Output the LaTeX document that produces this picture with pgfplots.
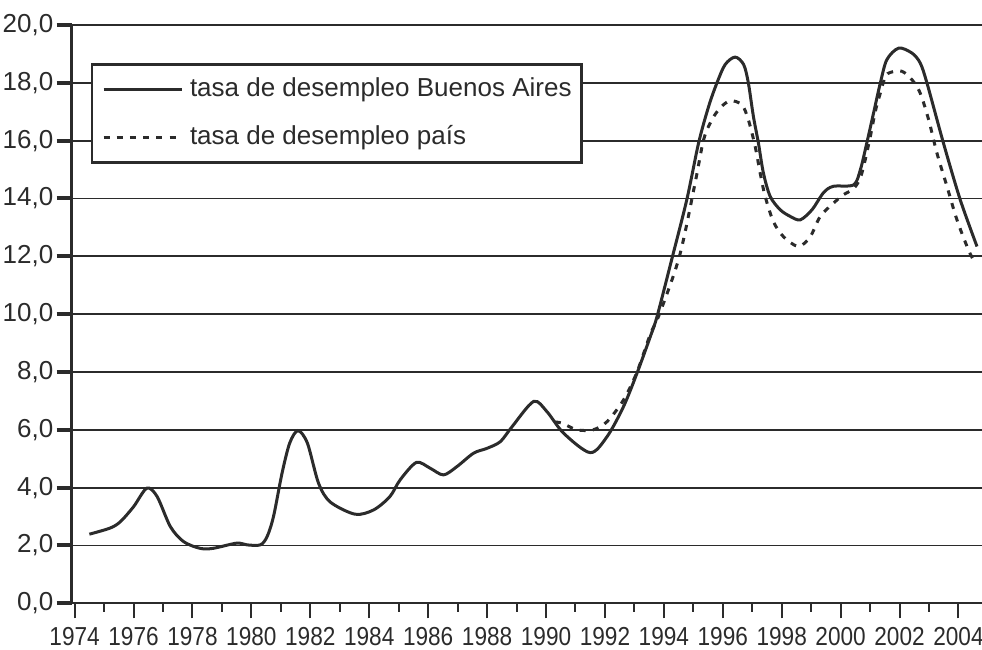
\documentclass[border=0pt]{standalone}
\usepackage{pgfplots}
\pgfplotsset{compat=1.18}
\usepackage{fontspec}
\setmainfont{Liberation Sans}
\newfontfamily\xlabfont[FakeStretch=0.87]{Liberation Sans}
\definecolor{ink}{HTML}{2B2B2B}
\pgfplotstableread{
x y
1974.5 2.39
1975.2 2.6
1975.55 2.82
1976.0 3.34
1976.45 3.98
1976.8 3.69
1977.25 2.65
1977.7 2.13
1978.26 1.9
1978.7 1.9
1979.5 2.08
1979.85 2.02
1980.3 2.02
1980.53 2.3
1980.75 3.0
1981.04 4.5
1981.3 5.54
1981.58 5.97
1981.9 5.54
1982.28 4.15
1982.68 3.5
1983.52 3.08
1984.15 3.23
1984.7 3.69
1985.05 4.27
1985.6 4.87
1986.07 4.67
1986.52 4.44
1986.98 4.73
1987.54 5.19
1988.0 5.36
1988.45 5.59
1988.85 6.11
1989.58 6.98
1990.03 6.63
1990.6 5.88
1991.5 5.21
1992.07 5.76
1992.63 6.8
1993.09 7.96
1993.54 9.22
1993.77 9.92
1994.28 11.94
1994.78 13.96
1995.18 15.92
1995.52 17.18
1995.8 17.99
1996.08 18.63
1996.42 18.89
1996.71 18.63
1996.87 17.99
1997.04 16.84
1997.21 15.92
1997.38 14.88
1997.61 14.07
1997.95 13.61
1998.29 13.38
1998.63 13.26
1999.03 13.61
1999.42 14.2
1999.75 14.42
2000.44 14.47
2000.67 14.99
2000.89 15.92
2001.12 16.96
2001.35 18.0
2001.57 18.8
2001.97 19.2
2002.42 19.03
2002.7 18.69
2002.93 18.0
2003.49 15.92
2004.06 13.96
2004.63 12.34
}\ba
\pgfplotstableread{
x y
1990.3 6.27
1990.54 6.23
1991.05 6.0
1991.6 6.0
1992.07 6.28
1992.63 7.03
1993.09 8.0
1993.54 9.3
1993.85 10.0
1994.53 12.0
1995.06 14.53
1995.35 16.03
1995.63 16.72
1995.91 17.13
1996.25 17.38
1996.65 17.24
1996.87 16.72
1997.1 15.8
1997.27 14.88
1997.44 14.07
1997.72 13.2
1998.06 12.68
1998.57 12.34
1998.97 12.68
1999.31 13.38
1999.76 13.84
2000.1 14.13
2000.45 14.35
2000.7 14.8
2000.98 16.0
2001.18 17.02
2001.35 17.65
2001.52 18.22
2001.69 18.36
2002.08 18.4
2002.42 18.11
2002.7 17.65
2002.99 16.72
2003.27 15.57
2003.61 14.42
2003.95 13.26
2004.34 12.22
2004.51 11.88
}\pais
\begin{document}
\begin{tikzpicture}
\begin{axis}[
  scale only axis, width=455.15pt, height=289.15pt,
  xmin=1973.9, xmax=2004.8, ymin=0, ymax=20,
  axis x line=bottom, axis y line=left,
  axis line style={-, line width=1.2pt, ink},
  xtick={1974,1976,...,2004},
  minor xtick={1975,1977,...,2003},
  ytick={0,2,...,20},
  ymajorgrids, grid style={line width=0.9pt, ink},
  tick align=outside,
  major tick length=7.5pt, minor tick length=4.2pt,
  xtick style={line width=1pt, ink},
  ytick style={line width=2pt, ink},
  /pgf/number format/assume math mode=true,
  x tick label style={font=\xlabfont\fontsize{13}{15}\selectfont, text=ink, yshift=-1pt, /pgf/number format/1000 sep={}},
  y tick label style={font=\fontsize{13}{15}\selectfont, text=ink, inner xsep=1.5pt,
     /pgf/number format/.cd, fixed, fixed zerofill, precision=1, use comma},
  legend style={at={(0.021,0.934)}, anchor=north west, draw=ink, line width=1.2pt, fill=white,
     font=\fontsize{13}{15}\selectfont, inner xsep=5pt, inner ysep=6pt, row sep=11pt, column sep=3.5pt,
     nodes={inner sep=0pt, text height=10pt, text depth=3pt, text=ink}},
  legend cell align=left,
  legend image code/.code={\draw[#1] (0pt,0pt) -- (39pt,0pt);},
]
\addplot[ink, line width=1.5pt, smooth, tension=0.5] table[x=x,y=y] {\ba};
\addlegendentry{tasa de desempleo Buenos Aires}
\addplot[ink, line width=1.5pt, dash pattern=on 3pt off 3.6pt, smooth, tension=0.5] table[x=x,y=y] {\pais};
\addlegendentry{tasa de desempleo país}
\end{axis}
\pgfresetboundingbox
\path[use as bounding box] ([xshift=-35.85pt,yshift=-23.35pt]current axis.south west) rectangle ([yshift=12.5pt]current axis.north east);
\end{tikzpicture}
\end{document}
